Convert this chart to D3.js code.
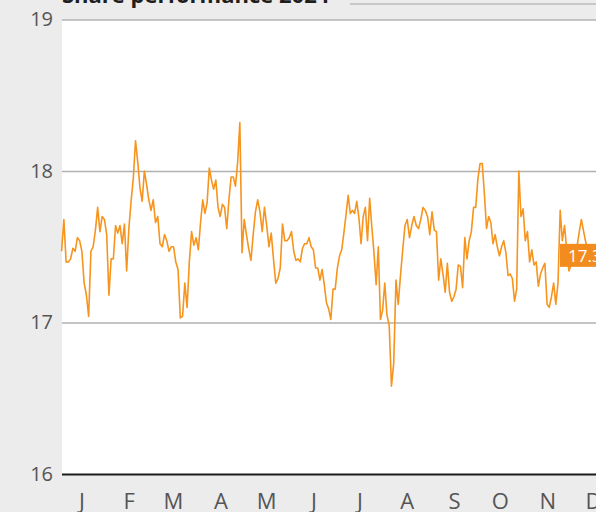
<!DOCTYPE html>
<html>
<head>
<meta charset="utf-8">
<script src="https://cdn.jsdelivr.net/npm/d3@7"></script>
<style>
    html, body { margin: 0; padding: 0; overflow: hidden; background: #ececec; }
    #chart { width: 596px; height: 512px; overflow: hidden; }
</style>
</head>
<body>
<div id="chart"></div>
<script>
// daily closes, one array per month
var jan = [17.47, 17.68, 17.40, 17.40, 17.42, 17.49, 17.47, 17.56, 17.54, 17.47, 17.26, 17.18, 17.04, 17.47, 17.50, 17.61, 17.76, 17.60, 17.70, 17.68, 17.58]
var feb = [17.18, 17.42, 17.42, 17.64, 17.59, 17.64, 17.52, 17.65, 17.34, 17.62, 17.80, 17.95, 18.20, 18.06, 17.89, 17.80, 18.00, 17.91, 17.81, 17.74]
var mar = [17.81, 17.66, 17.70, 17.52, 17.50, 17.58, 17.54, 17.47, 17.50, 17.50, 17.40, 17.35, 17.03, 17.04, 17.26, 17.10, 17.40, 17.60, 17.51, 17.56, 17.48]
var apr = [17.66, 17.81, 17.72, 17.79, 18.02, 17.94, 17.88, 17.94, 17.76, 17.70, 17.78, 17.76, 17.62, 17.81, 17.96, 17.96, 17.90, 18.06, 18.32, 17.46, 17.68]
var may = [17.58, 17.49, 17.41, 17.58, 17.73, 17.81, 17.73, 17.60, 17.76, 17.64, 17.50, 17.59, 17.42, 17.26, 17.29, 17.36, 17.65, 17.54, 17.54, 17.56, 17.60]
var jun = [17.47, 17.41, 17.42, 17.40, 17.49, 17.52, 17.52, 17.56, 17.50, 17.48, 17.36, 17.36, 17.28, 17.35, 17.25, 17.13, 17.09, 17.02, 17.22, 17.22, 17.36]
var jul = [17.44, 17.48, 17.59, 17.71, 17.84, 17.72, 17.74, 17.72, 17.80, 17.69, 17.52, 17.70, 17.76, 17.54, 17.82, 17.63, 17.46, 17.25, 17.50, 17.02, 17.08, 17.26]
var aug = [17.05, 16.98, 16.58, 16.73, 17.28, 17.12, 17.31, 17.48, 17.64, 17.68, 17.56, 17.64, 17.70, 17.64, 17.62, 17.68, 17.76, 17.74, 17.70, 17.58, 17.73]
var sep = [17.61, 17.60, 17.28, 17.42, 17.32, 17.20, 17.39, 17.20, 17.14, 17.17, 17.22, 17.38, 17.37, 17.23, 17.56, 17.42, 17.54, 17.60, 17.76, 17.76, 17.95]
var oct = [18.05, 18.05, 17.85, 17.62, 17.70, 17.66, 17.52, 17.58, 17.50, 17.44, 17.50, 17.54, 17.46, 17.31, 17.32, 17.29, 17.14, 17.22, 18.00, 17.70, 17.75, 17.54]
var nov = [17.60, 17.40, 17.48, 17.38, 17.40, 17.24, 17.32, 17.36, 17.39, 17.12, 17.10, 17.17, 17.26, 17.12, 17.26, 17.74, 17.54, 17.64, 17.48, 17.34, 17.38]
var dec = [17.41, 17.45, 17.51, 17.60, 17.68, 17.61, 17.54, 17.48, 17.44]

var months = [jan, feb, mar, apr, may, jun, jul, aug, sep, oct, nov, dec]
var monthLabels = ["J", "F", "M", "A", "M", "J", "J", "A", "S", "O", "N", "D"]
var yTicks = [16, 17, 18, 19]
var lastDay = new Date(2024, 11, 13)
var lastLabel = "17.38"
var title = "Share performance 2024"

var width = 640,
    height = 512;

var margin = {top: 19.5, right: 22, bottom: 38, left: 62};

var svg = d3
    .select("#chart")
    .append("svg")
    .attr("xmlns", "http://www.w3.org/2000/svg")
    .attr("width", width)
    .attr("height", height)
    .style("font-family", "'Open Sans', sans-serif")

// spread each month's closes over that month
var data = []
months.forEach(function (vals, m) {
    var start = new Date(2024, m, 1),
        end = m == 11 ? lastDay : new Date(2024, m + 1, 1)
    var span = (end - start) / 864e5
    vals.forEach(function (v, i) {
        data.push({date: new Date(+start + (i + 0.5) * span / vals.length * 864e5), value: v})
    })
})

var x = d3.scaleTime()
    .domain([new Date(2024, 0, 2), new Date(2024, 11, 31)])
    .range([margin.left, width - margin.right])

var y = d3.scaleLinear()
    .domain([16, 19])
    .range([height - margin.bottom, margin.top])

// title, mostly cut off at the top
svg.append("text")
    .attr("x", margin.left)
    .attr("y", 3)
    .attr("fill", "#1e1e1e")
    .style("font-size", "22px")
    .style("font-weight", "bold")
    .text(title)

svg.append("line")
    .attr("x1", 350)
    .attr("x2", width)
    .attr("y1", 4)
    .attr("y2", 4)
    .attr("stroke", "#bdbdbd")
    .attr("stroke-width", 1.5)

// plot background
svg.append("rect")
    .attr("x", margin.left)
    .attr("y", y(19))
    .attr("width", width - margin.left)
    .attr("height", y(16) - y(19))
    .attr("fill", "#fff")

var yAxis = svg.append("g")
    .attr("transform", "translate(" + margin.left + ",0)")
    .call(d3.axisLeft(y).tickValues(yTicks).tickSize(-(width - margin.left)).tickPadding(9).tickFormat(d3.format("d")))

yAxis.select(".domain").remove()
yAxis.selectAll(".tick line")
    .attr("stroke", function (d) { return d == 16 ? "#1a1a1a" : "#b0b0b0" })
    .attr("stroke-width", function (d) { return d == 16 ? 2.2 : 1.5 })
yAxis.selectAll(".tick text")
    .attr("fill", "#555")
    .style("font-size", "20px")
    .style("font-family", "'Open Sans', sans-serif")

// month letters, one near the middle of each month
var monthStarts = d3.timeMonth.range(new Date(2024, 0, 1), new Date(2025, 0, 1))
svg.append("g")
    .selectAll("text")
    .data(monthStarts)
    .enter()
    .append("text")
    .attr("x", function (d) {
        return x(d3.timeDay.offset(d, 14))
    })
    .attr("y", 509)
    .attr("text-anchor", "middle")
    .attr("fill", "#555")
    .style("font-size", "22px")
    .text(function (d, i) { return monthLabels[i] })

var line = d3.line()
    .x(function (d) { return x(d.date) })
    .y(function (d) { return y(d.value) })

svg.append("path")
    .datum(data)
    .attr("d", line)
    .attr("fill", "none")
    .attr("stroke", "#f7941d")
    .attr("stroke-width", 1.6)
    .attr("stroke-linejoin", "round")

// last value tag on the right edge
var last = data[data.length - 1]
var tag = svg.append("g")
    .attr("transform", "translate(" + (width - margin.right) + "," + y(last.value) + ")")

tag.append("rect")
    .attr("x", -58)
    .attr("y", -12)
    .attr("width", 58)
    .attr("height", 23)
    .attr("fill", "#f28c1e")

tag.append("text")
    .attr("x", -50)
    .attr("y", 6)
    .attr("fill", "#fff")
    .style("font-size", "17px")
    .text(lastLabel)
</script>
</body>
</html>
